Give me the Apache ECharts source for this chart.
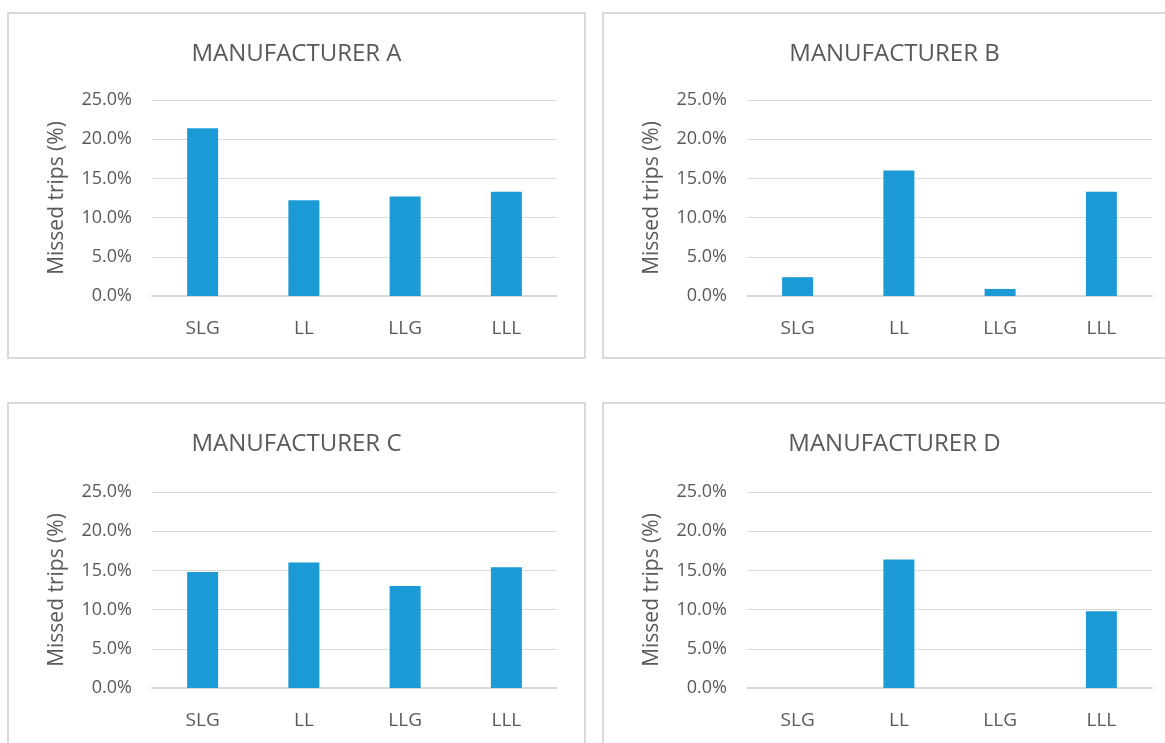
<!DOCTYPE html>
<html>
<head>
<meta charset="utf-8">
<title>Missed trips by manufacturer</title>
<script src="https://cdn.jsdelivr.net/npm/echarts@6/dist/echarts.min.js"></script>
<style>
  html, body { margin: 0; padding: 0; background: #ffffff; }
  body { width: 1165px; height: 743px; overflow: hidden; position: relative; }
  .panel {
    position: absolute;
    box-sizing: border-box;
    border: 2px solid #d9d9d9;
    background: #ffffff;
  }
  .panel .chart { position: absolute; left: 0; top: 0; width: 100%; height: 100%; }
</style>
</head>
<body>
<div class="panel" id="pA" style="left:7px; top:12px; width:579px; height:347px;"><div class="chart" id="cA"></div></div>
<div class="panel" id="pB" style="left:602px; top:12px; width:585px; height:347px;"><div class="chart" id="cB"></div></div>
<div class="panel" id="pC" style="left:7px; top:402px; width:579px; height:400px;"><div class="chart" id="cC"></div></div>
<div class="panel" id="pD" style="left:602px; top:402px; width:585px; height:400px;"><div class="chart" id="cD"></div></div>

<script>
// Installation types on the x axis
const categories = ['SLG', 'LL', 'LLG', 'LLL'];

// Share of missed trips per installation type (%)
const manufacturerA = [21.4, 12.2, 12.7, 13.3];
const manufacturerB = [2.4, 16.0, 0.9, 13.3];
const manufacturerC = [14.8, 16.0, 13.0, 15.4];
const manufacturerD = [null, 16.4, null, 9.8];

// Panel titles
const panelTitles = ['MANUFACTURER A', 'MANUFACTURER B', 'MANUFACTURER C', 'MANUFACTURER D'];

// Value axis ticks
const yMin = 0;
const yMax = 25;
const yStep = 5;
const yAxisTitle = 'Missed trips (%)';

const FONT = '"Open Sans", "Noto Sans", sans-serif';
const TEXT_GREY = '#595959';
const GRID_GREY = '#d9d9d9';
const BAR_BLUE = '#1b9ad6';

function buildOption(title, values, gridTop) {
  return {
    animation: false,
    textStyle: { fontFamily: FONT },
    title: {
      text: title,
      left: 'center',
      top: 28,
      padding: 0,
      textStyle: { fontFamily: FONT, fontSize: 24, fontWeight: 'normal', color: TEXT_GREY }
    },
    grid: { left: 143, top: gridTop, width: 405, height: 196, containLabel: false },
    xAxis: {
      type: 'category',
      data: categories,
      axisTick: { show: false },
      axisLine: { show: true, lineStyle: { color: GRID_GREY, width: 2 } },
      axisLabel: { color: TEXT_GREY, fontFamily: FONT, fontSize: 19, margin: 23 }
    },
    yAxis: {
      type: 'value',
      min: yMin,
      max: yMax,
      interval: yStep,
      name: yAxisTitle,
      nameLocation: 'middle',
      nameGap: 84,
      nameTextStyle: { color: TEXT_GREY, fontFamily: FONT, fontSize: 21 },
      axisLine: { show: false },
      axisTick: { show: false },
      splitLine: { show: true, lineStyle: { color: GRID_GREY, width: 1 } },
      axisLabel: {
        color: TEXT_GREY, fontFamily: FONT, fontSize: 18, margin: 20,
        formatter: function (v) { return v.toFixed(1) + '%'; }
      }
    },
    series: [{
      type: 'bar',
      data: values,
      barWidth: 31,
      itemStyle: { color: BAR_BLUE }
    }]
  };
}

const panels = [
  { id: 'cA', values: manufacturerA, top: 86 },
  { id: 'cB', values: manufacturerB, top: 86 },
  { id: 'cC', values: manufacturerC, top: 88 },
  { id: 'cD', values: manufacturerD, top: 88 }
];

panels.forEach(function (p, i) {
  const chart = echarts.init(document.getElementById(p.id), null, { renderer: 'canvas' });
  chart.setOption(buildOption(panelTitles[i], p.values, p.top));
});
</script>
</body>
</html>
